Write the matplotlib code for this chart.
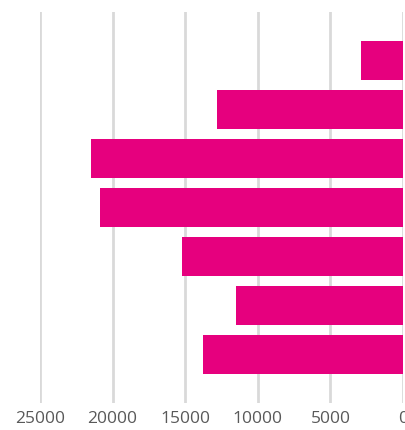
import matplotlib
matplotlib.use("Agg")
import matplotlib.pyplot as plt

categories = ["A", "B", "C", "D", "E", "F", "G"]
values = [2900, 12800, 21500, 20900, 15200, 11500, 13750]
ticks = [25000, 20000, 15000, 10000, 5000, 0]

fig = plt.figure(figsize=(4.05, 4.30), dpi=100)
ax = fig.add_axes([40/405, 27/430, 363/405, 391/430])

ax.barh(range(len(categories)), values, height=0.8, color="#E6007E", zorder=3)
ax.set_xlim(25000, 0)
ax.set_ylim(len(categories), -1)
ax.set_xticks(ticks)
ax.set_xticklabels([str(t) for t in ticks], fontsize=12.5, color="#595959", family=["Open Sans", "DejaVu Sans"])
ax.set_yticks([])
ax.grid(axis="x", color="#d9d9d9", linewidth=2, zorder=0)
for s in ax.spines.values():
    s.set_visible(False)
ax.tick_params(axis="x", length=0, pad=6)
for lbl in ax.get_xticklabels():
    lbl.set_clip_on(False)

fig.savefig("out.png", dpi=100)
